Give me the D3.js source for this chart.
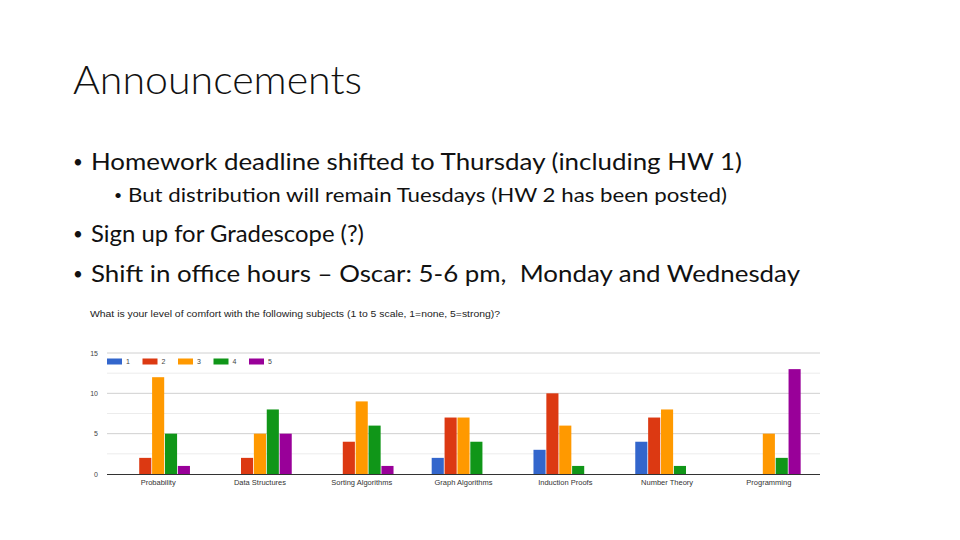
<!DOCTYPE html>
<html><head><meta charset="utf-8">
<script src="https://cdn.jsdelivr.net/npm/d3@7"></script>
<style>body{margin:0;background:#fff}svg{display:block}</style>
</head><body>
<svg id="c" width="960" height="540"></svg>
<script>
const categories = ["Probability","Data Structures","Sorting Algorithms","Graph Algorithms","Induction Proofs","Number Theory","Programming"];
const seriesNames = ["1","2","3","4","5"];
const s1 = [0,0,0,2,3,4,0];
const s2 = [2,2,4,7,10,7,0];
const s3 = [12,5,9,7,6,8,5];
const s4 = [5,8,6,4,1,1,2];
const s5 = [1,5,1,0,0,0,13];
const seriesValues = [s1,s2,s3,s4,s5];
const colors = ["#3366cc","#dc3912","#ff9900","#109618","#990099"];
const yTicks = [0,5,10,15];
const minorTicks = [2.5,7.5,12.5];

(function(){
const svg = d3.select("#c");
const font = "Lato, 'Open Sans', sans-serif";

svg.append("text").attr("x",73).attr("y",94).attr("font-family",font).attr("font-weight",300)
  .attr("font-size",39).attr("fill","#111").attr("textLength",289).attr("lengthAdjust","spacingAndGlyphs").text("Announcements");
const bullets = [
  {x:91,y:170,size:23,end:742,t:"Homework deadline shifted to Thursday (including HW 1)",bx:73,bs:17},
  {x:128,y:202,size:19,end:727,t:"But distribution will remain Tuesdays (HW 2 has been posted)",bx:114,bs:14},
  {x:91,y:242,size:23,end:364,t:"Sign up for Gradescope (?)",bx:73,bs:17},
  {x:91,y:282,size:23,end:800,t:"Shift in office hours – Oscar: 5-6 pm,  Monday and Wednesday",bx:73,bs:17}
];
bullets.forEach(b=>{
  svg.append("text").attr("x",b.bx).attr("y",b.y-2).attr("font-family",font).attr("font-size",b.bs).attr("fill","#111").text("•");
  svg.append("text").attr("x",b.x).attr("y",b.y).attr("font-family",font).attr("font-size",b.size).attr("fill","#111")
    .attr("textLength",b.end-b.x).attr("lengthAdjust","spacingAndGlyphs").style("white-space","pre").text(b.t);
});

svg.append("text").attr("x",90).attr("y",317).attr("font-family","'Liberation Sans', Arial, sans-serif")
  .attr("font-size",9.5).attr("fill","#222").attr("textLength",410).attr("lengthAdjust","spacingAndGlyphs")
  .text("What is your level of comfort with the following subjects (1 to 5 scale, 1=none, 5=strong)?");

const pl = 107, pr = 820, pt = 353, pb = 474;
const x = d3.scaleBand().domain(categories).range([pl,pr]).paddingInner(0.375).paddingOuter(0.19);
const xs = d3.scaleBand().domain(seriesNames).range([0,x.bandwidth()]).paddingInner(0.06);
const y = d3.scaleLinear().domain([0,15]).range([pb,pt]);

const g = svg.append("g");
g.selectAll(".minor").data(minorTicks).join("line").attr("class","minor")
  .attr("x1",pl).attr("x2",pr).attr("y1",d=>y(d)).attr("y2",d=>y(d)).attr("stroke","#ececec").attr("stroke-width",1);
g.selectAll(".major").data(yTicks.filter(d=>d>0)).join("line").attr("class","major")
  .attr("x1",pl).attr("x2",pr).attr("y1",d=>y(d)).attr("y2",d=>y(d)).attr("stroke","#d0d0d0").attr("stroke-width",1);

const yAxis = d3.axisLeft(y).tickValues(yTicks).tickSize(0).tickPadding(9);
const ya = svg.append("g").attr("transform",`translate(${pl},0)`).call(yAxis);
ya.select(".domain").remove();
ya.selectAll("text").attr("font-family","'Liberation Sans', Arial, sans-serif").attr("font-size",7).attr("fill","#444");

seriesValues.forEach((vals,si)=>{
  svg.append("g").selectAll("rect").data(categories.map((c,i)=>({c,v:vals[i]}))).join("rect")
    .attr("x",d=>x(d.c)+xs(seriesNames[si])).attr("width",xs.bandwidth())
    .attr("y",d=>y(d.v)).attr("height",d=>pb-y(d.v)).attr("fill",colors[si]);
});

const xAxis = d3.axisBottom(x).tickSize(0).tickPadding(6);
const xa = svg.append("g").attr("transform",`translate(0,${pb})`).call(xAxis);
xa.select(".domain").attr("stroke","#333").attr("d",`M${pl},0.5H${pr}`);
xa.selectAll("text").attr("font-family","'Liberation Sans', Arial, sans-serif").attr("font-size",7.5).attr("fill","#333");

const lg = svg.append("g");
seriesNames.forEach((n,i)=>{
  const lx = 107 + i*35.5;
  lg.append("rect").attr("x",lx).attr("y",358.5).attr("width",15).attr("height",6).attr("fill",colors[i]);
  lg.append("text").attr("x",lx+19).attr("y",364).attr("font-family","'Liberation Sans', Arial, sans-serif")
    .attr("font-size",7).attr("fill","#444").text(n);
});
})();
</script>
</body></html>
